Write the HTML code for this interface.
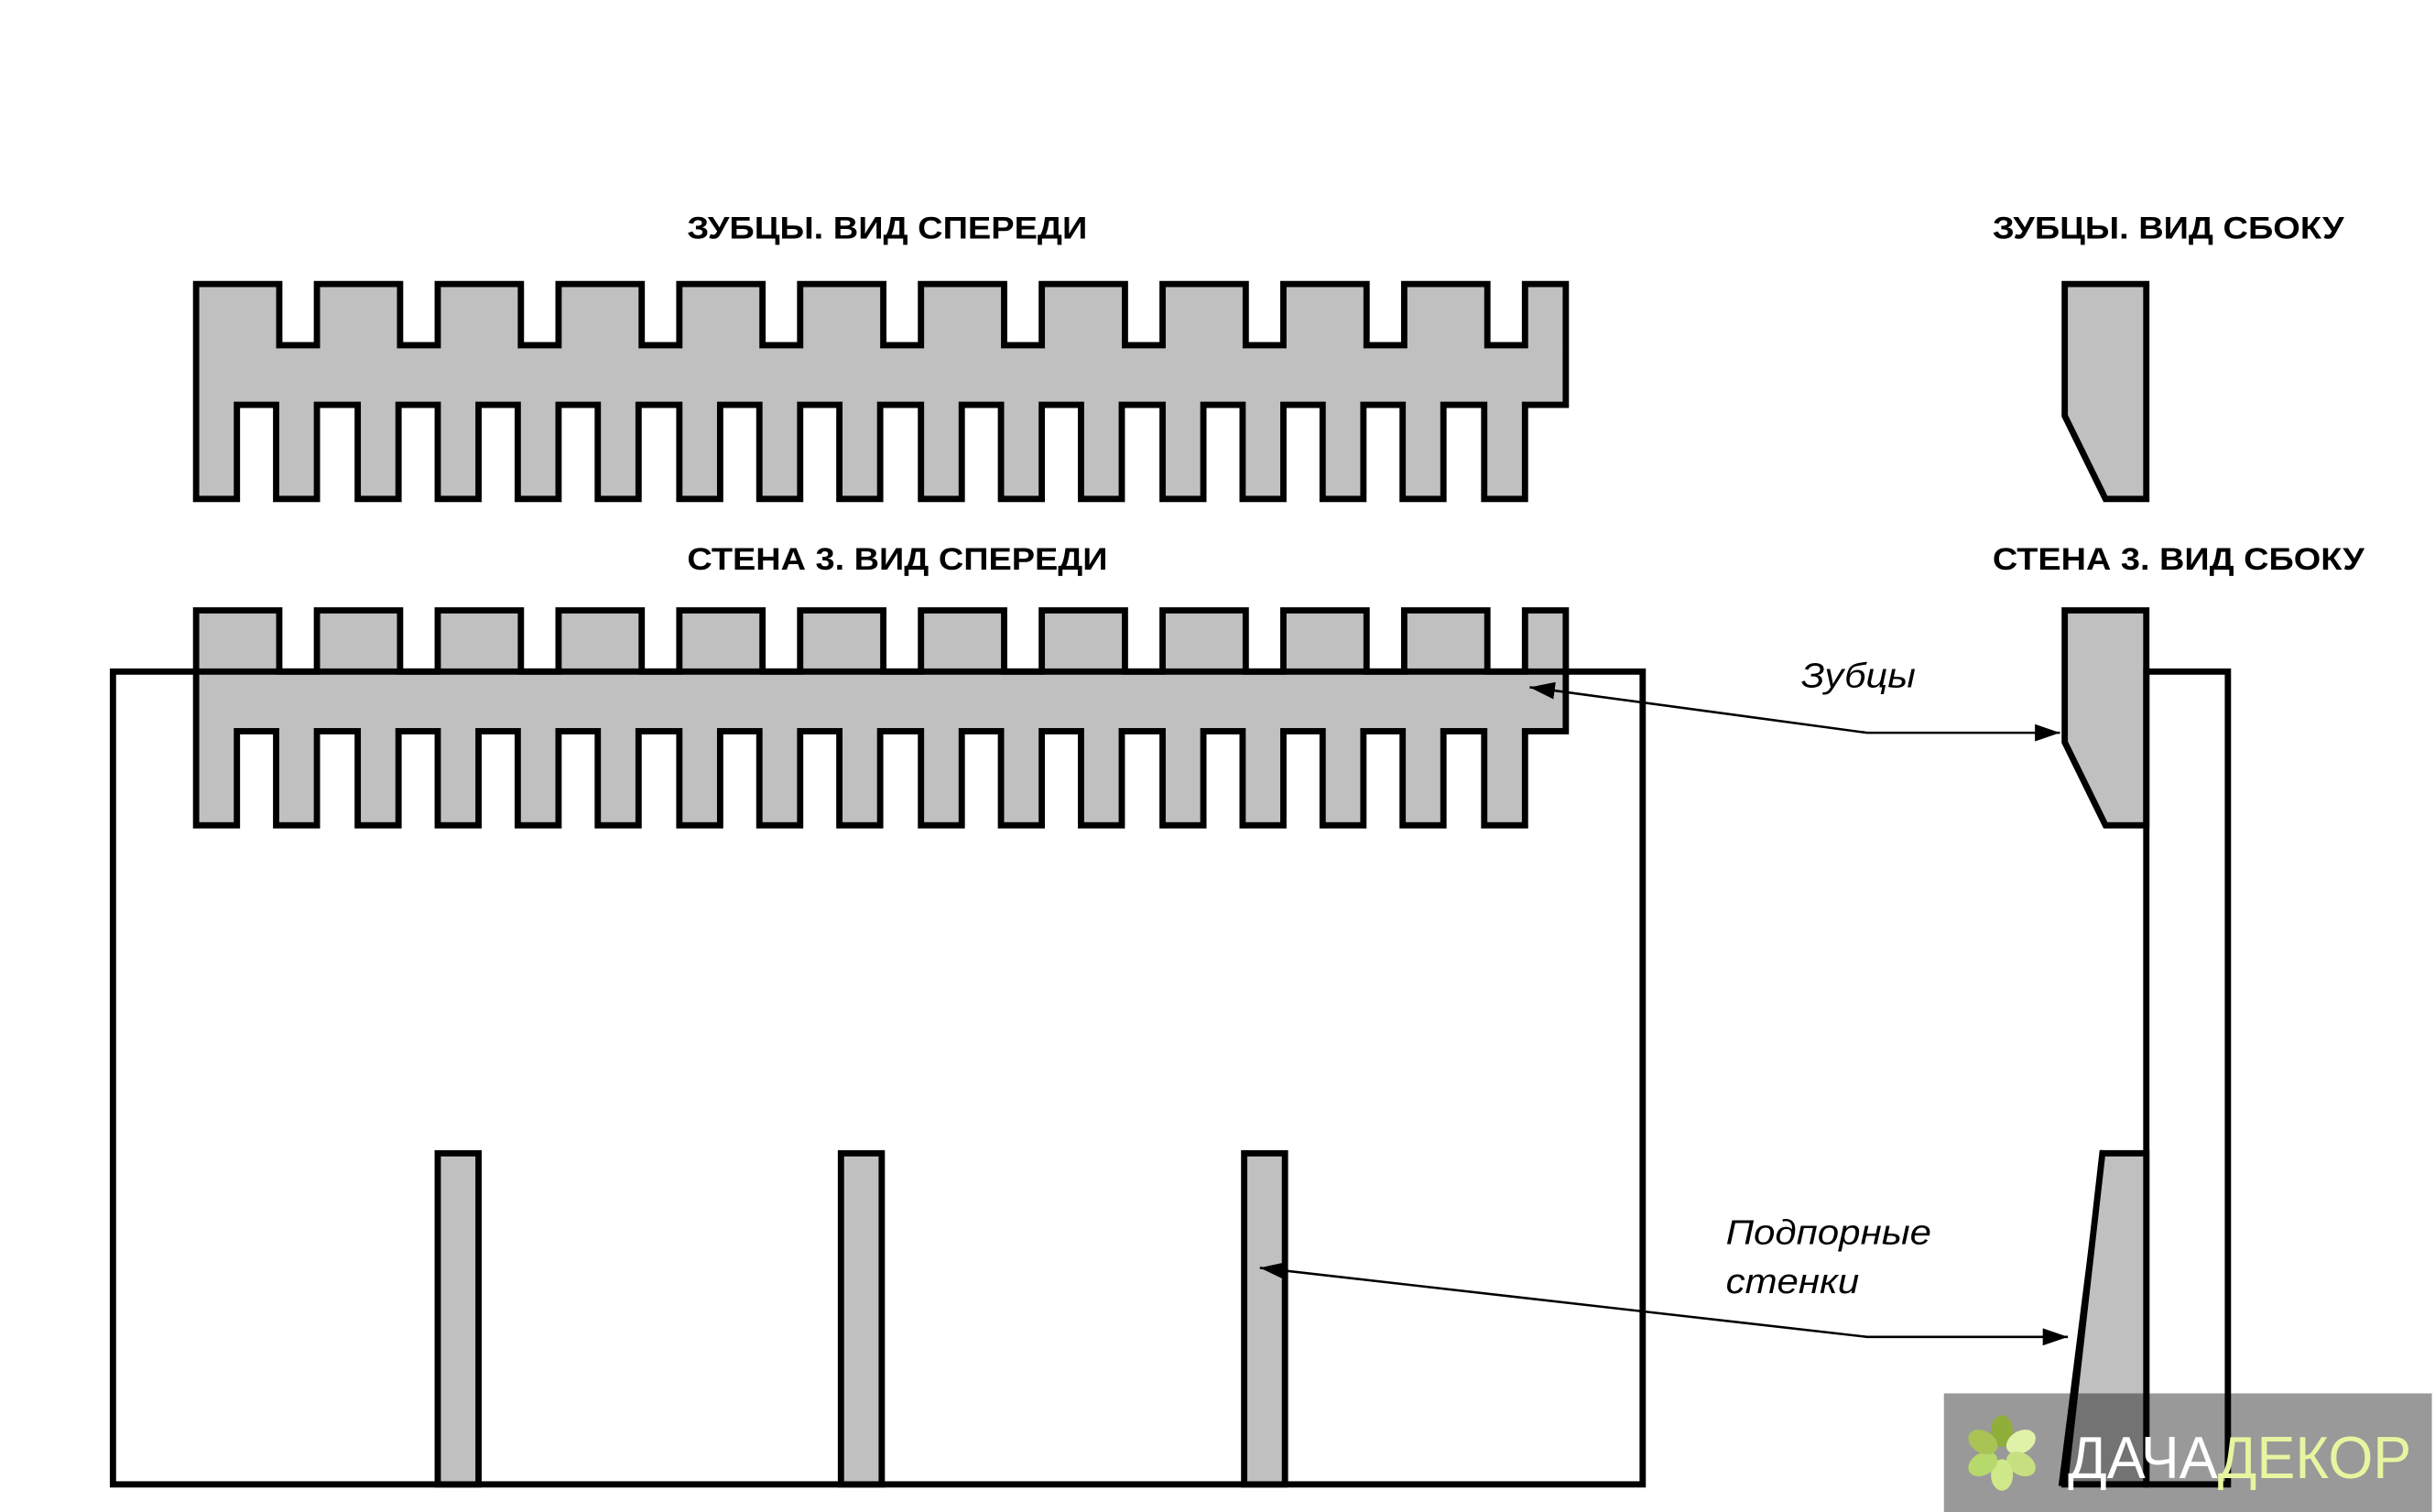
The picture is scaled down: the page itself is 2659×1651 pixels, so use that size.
<!DOCTYPE html>
<html><head><meta charset="utf-8"><style>html,body{margin:0;padding:0;background:#fff}svg{display:block}</style></head>
<body>
<svg width="2659" height="1651" viewBox="0 0 1552 963.6" preserveAspectRatio="none" xmlns="http://www.w3.org/2000/svg">
<defs>
<path id="comb" d="M125,181 H178 V220 H202 V181 H255 V220 H279 V181 H332 V220 H356 V181 H409 V220 H433 V181 H486 V220 H510 V181 H563 V220 H587 V181 H640 V220 H664 V181 H717 V220 H741 V181 H794 V220 H818 V181 H871 V220 H895 V181 H948 V220 H972 V181 H998 V258 H972 V318 H946 V258 H920 V318 H894 V258 H869 V318 H843 V258 H818 V318 H792 V258 H767 V318 H741 V258 H715 V318 H689 V258 H664 V318 H638 V258 H613 V318 H587 V258 H561 V318 H535 V258 H510 V318 H484 V258 H459 V318 H433 V258 H407 V318 H381 V258 H356 V318 H330 V258 H305 V318 H279 V258 H254 V318 H228 V258 H202 V318 H176 V258 H151 V318 H125 Z" fill="#c0c0c0" stroke="#000" stroke-width="4"/>
<path id="side" d="M1316,181 H1368 V318 H1342 L1316,265 Z" fill="#c0c0c0" stroke="#000" stroke-width="4"/>
<marker id="ah" viewBox="0 0 16 11" refX="16" refY="5.5" markerWidth="16" markerHeight="11" orient="auto-start-reverse" markerUnits="userSpaceOnUse"><path d="M0,0 L16,5.5 L0,11 Z" fill="#000"/></marker>
</defs>
<g font-family="Liberation Sans, DejaVu Sans, sans-serif">
<text x="438" y="152" font-size="20" font-weight="bold" textLength="255" lengthAdjust="spacingAndGlyphs">ЗУБЦЫ. ВИД СПЕРЕДИ</text>
<text x="1270" y="152" font-size="20" font-weight="bold" textLength="224" lengthAdjust="spacingAndGlyphs">ЗУБЦЫ. ВИД СБОКУ</text>
<text x="438" y="363" font-size="20" font-weight="bold" textLength="268" lengthAdjust="spacingAndGlyphs">СТЕНА 3. ВИД СПЕРЕДИ</text>
<text x="1270" y="363" font-size="20" font-weight="bold" textLength="237" lengthAdjust="spacingAndGlyphs">СТЕНА 3. ВИД СБОКУ</text>
<text x="1148" y="438" font-size="22" font-style="italic" textLength="73" lengthAdjust="spacingAndGlyphs">Зубцы</text>
<text x="1100" y="793" font-size="22" font-style="italic" textLength="131" lengthAdjust="spacingAndGlyphs">Подпорные</text>
<text x="1100" y="824" font-size="22" font-style="italic" textLength="85" lengthAdjust="spacingAndGlyphs">стенки</text>
</g>
<use href="#comb"/>
<use href="#comb" transform="translate(0,208)"/>
<use href="#side"/>
<use href="#side" transform="translate(0,208)"/>
<rect x="72" y="428" width="975" height="518" fill="none" stroke="#000" stroke-width="4"/>
<rect x="279" y="735" width="26" height="211" fill="#c0c0c0" stroke="#000" stroke-width="4"/>
<rect x="536" y="735" width="26" height="211" fill="#c0c0c0" stroke="#000" stroke-width="4"/>
<rect x="793" y="735" width="26" height="211" fill="#c0c0c0" stroke="#000" stroke-width="4"/>
<rect x="1368" y="428" width="52" height="518" fill="none" stroke="#000" stroke-width="4"/>
<path d="M1340,735 H1368 V946 H1316 Z" fill="#c0c0c0" stroke="#000" stroke-width="4"/>
<line x1="1340" y1="733" x2="1313" y2="947" stroke="#000" stroke-width="2"/>
<polyline points="975,438 1190,467 1313,467" fill="none" stroke="#000" stroke-width="1.5" marker-start="url(#ah)" marker-end="url(#ah)"/>
<polyline points="803,808 1190,852 1318,852" fill="none" stroke="#000" stroke-width="1.5" marker-start="url(#ah)" marker-end="url(#ah)"/>
<rect x="1239" y="888" width="311" height="78" fill="#000" fill-opacity="0.4"/>
<g transform="translate(1276,926)">
<ellipse cx="0" cy="-14" rx="7" ry="10" fill="#8fae3a"/>
<ellipse cx="0" cy="-14" rx="7" ry="10" fill="#e0f2a8" transform="rotate(60)"/>
<ellipse cx="0" cy="-14" rx="7" ry="10" fill="#c6df80" transform="rotate(120)"/>
<ellipse cx="0" cy="-14" rx="7" ry="10" fill="#cfe98a" transform="rotate(180)"/>
<ellipse cx="0" cy="-14" rx="7" ry="10" fill="#b7d86a" transform="rotate(240)"/>
<ellipse cx="0" cy="-14" rx="7" ry="10" fill="#a9c455" transform="rotate(300)"/>
</g>
<text x="1318" y="942" font-family="Liberation Sans, DejaVu Sans, sans-serif" font-size="38" textLength="219" lengthAdjust="spacingAndGlyphs"><tspan fill="#fff">ДАЧА</tspan><tspan fill="#e8f5a0">ДЕКОР</tspan></text>
</svg>
</body></html>
